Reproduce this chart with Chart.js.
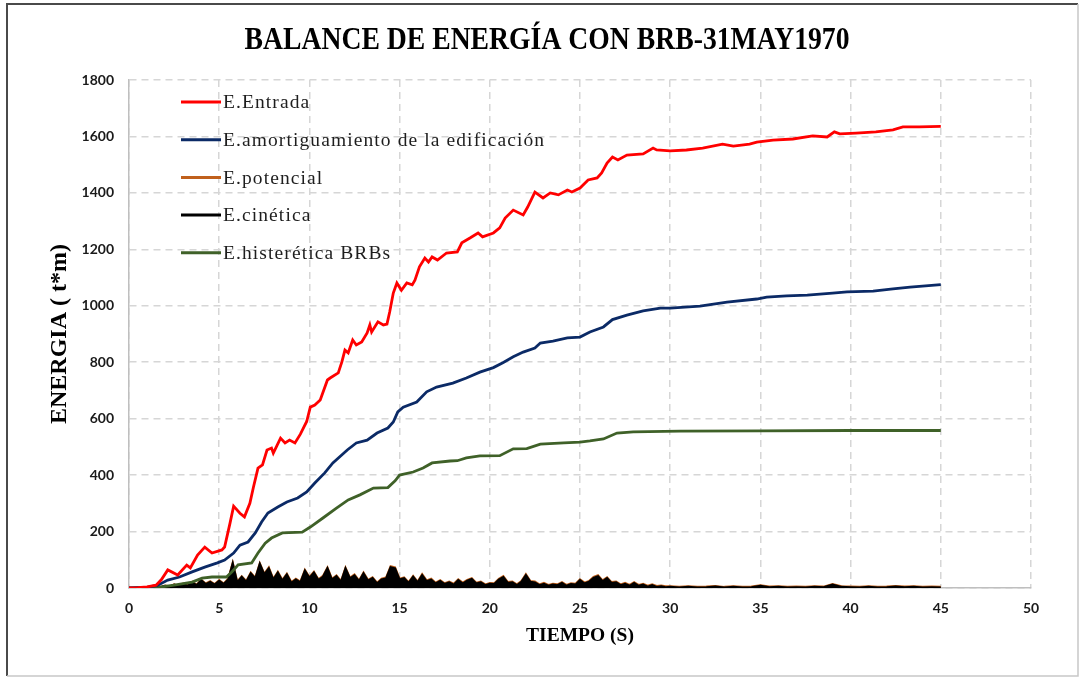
<!DOCTYPE html>
<html>
<head>
<meta charset="utf-8">
<script src="https://cdn.jsdelivr.net/npm/chart.js@4/dist/chart.umd.min.js"></script>
<style>
  html, body { margin: 0; padding: 0; background: #ffffff; }
  #wrap { position: relative; width: 1084px; height: 677px; }
  canvas { display: block; }
</style>
</head>
<body>
<div id="wrap"><canvas id="c" width="1084" height="677"></canvas></div>
<script>
// Energy balance time histories (t in s, energy in t*m)
const chartTitle = 'BALANCE DE ENERGÍA CON BRB-31MAY1970';
const xTitle = 'TIEMPO (S)';
const yTitle = 'ENERGIA ( t*m)';
const seriesNames = [
  'E.Entrada',
  'E.amortiguamiento de la edificación',
  'E.potencial',
  'E.cinética',
  'E.histerética BRBs'
];
const seriesColors = ['#ff0000', '#0b2a66', '#c0601c', '#000000', '#3f6128'];

const xTicks = [0, 5, 10, 15, 20, 25, 30, 35, 40, 45, 50];
const yTicks = [0, 200, 400, 600, 800, 1000, 1200, 1400, 1600, 1800];

// Input energy
const entradaT = [0, 0.5, 1.0, 1.5, 1.8, 2.15, 2.7, 3.2, 3.4, 3.8, 4.2, 4.6, 5.15, 5.3, 5.6, 5.8, 6.15, 6.4, 6.7, 6.9,
  7.15, 7.4, 7.65, 7.9, 8.0, 8.4, 8.65, 8.9, 9.2, 9.5, 9.85, 10.05, 10.3, 10.6, 11.0, 11.15, 11.6, 11.8, 11.97, 12.15,
  12.4, 12.6, 12.9, 13.2, 13.35, 13.45, 13.8, 14.1, 14.3, 14.45, 14.65, 14.85, 15.1, 15.4, 15.7, 15.85, 16.1, 16.4, 16.6, 16.8,
  17.1, 17.6, 18.2, 18.45, 18.9, 19.35, 19.6, 20.2, 20.55, 20.85, 21.3, 21.85, 22.1, 22.5, 22.95, 23.35, 23.8, 24.3, 24.55, 25.0,
  25.45, 25.95, 26.2, 26.5, 26.8, 27.1, 27.6, 28.5, 29.05, 29.25, 30.0, 30.9, 31.8, 32.9, 33.5, 34.4, 34.8, 35.7, 36.8, 37.9,
  38.7, 39.1, 39.4, 40.3, 41.4, 42.35, 42.9, 43.8, 45.0];
const entradaE = [0, 1, 4, 10, 30, 64, 46, 81, 71, 117, 145, 124, 135, 145, 230, 290, 265, 252, 300, 358,
  425, 436, 489, 496, 478, 531, 514, 524, 514, 545, 590, 641, 648, 666, 737, 744, 762, 801, 843, 833,
  879, 861, 872, 904, 932, 907, 943, 932, 935, 978, 1045, 1081, 1055, 1081, 1074, 1091, 1138, 1169, 1155, 1173,
  1162, 1187, 1191, 1223, 1240, 1258, 1244, 1258, 1276, 1311, 1339, 1322, 1350, 1403, 1382, 1400, 1393, 1410, 1403, 1417,
  1446, 1453, 1471, 1506, 1527, 1517, 1534, 1538, 1559, 1552, 1549, 1552, 1559, 1573, 1566, 1573, 1580, 1587, 1591, 1602,
  1598, 1616, 1609, 1612, 1616, 1623, 1634, 1634, 1636];

// Structural damping energy
const amortT = [0, 1.0, 1.6, 2.15, 2.8, 3.5, 4.2, 4.9, 5.3, 5.8, 6.15, 6.6, 7.0, 7.35, 7.7, 8.25, 8.75, 9.35, 9.85, 10.3,
  10.85, 11.3, 12.1, 12.6, 13.2, 13.75, 14.35, 14.65, 14.9, 15.2, 15.95, 16.5, 17.05, 17.95, 18.7, 19.45, 20.2, 20.75, 21.3, 21.85,
  22.5, 22.8, 23.5, 24.3, 25.0, 25.55, 26.3, 26.8, 27.6, 28.5, 29.45, 30.0, 31.65, 33.15, 34.8, 35.35, 36.45, 37.6, 39.0, 39.8,
  41.25, 42.35, 43.3, 45.0];
const amortE = [0, 2, 10, 28, 39, 57, 74, 89, 99, 124, 152, 163, 195, 234, 266, 287, 305, 319, 340, 372,
  408, 443, 489, 514, 524, 549, 567, 588, 624, 641, 659, 695, 712, 726, 744, 765, 781, 799, 819, 836,
  850, 868, 875, 886, 889, 907, 925, 951, 967, 982, 992, 992, 999, 1013, 1024, 1031, 1035, 1038, 1045, 1049,
  1052, 1060, 1066, 1075];

// Hysteretic energy dissipated by the BRBs
const histT = [0, 1.0, 1.6, 2.5, 3.5, 4.05, 4.6, 5.4, 5.7, 6.05, 6.8, 7.15, 7.55, 7.9, 8.5, 9.6, 10.05, 10.75, 11.5, 12.15,
  12.8, 13.55, 14.35, 14.75, 15.0, 15.75, 16.3, 16.8, 17.8, 18.2, 18.7, 19.45, 20.55, 21.3, 22.05, 22.8, 24.1, 25.0, 25.55, 26.3,
  27.05, 27.95, 30.55, 35.0, 40.0, 45.0];
const histE = [0, 1, 2, 10, 21, 35, 39, 39, 57, 82, 89, 124, 159, 177, 195, 198, 216, 248, 283, 312,
  330, 354, 356, 380, 400, 411, 425, 443, 450, 451, 461, 468, 469, 493, 494, 510, 514, 517, 521, 528,
  549, 553, 556, 557, 558, 558];

// Kinetic and potential energy (sampled every 0.25 s up to 30 s, then every 0.5 s)
const oscT = [0, 0.25, 0.5, 0.75, 1, 1.25, 1.5, 1.75, 2, 2.25, 2.5, 2.75, 3, 3.25, 3.5, 3.75, 4, 4.25, 4.5, 4.75,
  5, 5.25, 5.5, 5.75, 6, 6.25, 6.5, 6.75, 7, 7.25, 7.5, 7.75, 8, 8.25, 8.5, 8.75, 9, 9.25, 9.5, 9.75,
  10, 10.25, 10.5, 10.75, 11, 11.25, 11.5, 11.75, 12, 12.25, 12.5, 12.75, 13, 13.25, 13.5, 13.75, 14, 14.25, 14.5, 14.75,
  15, 15.25, 15.5, 15.75, 16, 16.25, 16.5, 16.75, 17, 17.25, 17.5, 17.75, 18, 18.25, 18.5, 18.75, 19, 19.25, 19.5, 19.75,
  20, 20.25, 20.5, 20.75, 21, 21.25, 21.5, 21.75, 22, 22.25, 22.5, 22.75, 23, 23.25, 23.5, 23.75, 24, 24.25, 24.5, 24.75,
  25, 25.25, 25.5, 25.75, 26, 26.25, 26.5, 26.75, 27, 27.25, 27.5, 27.75, 28, 28.25, 28.5, 28.75, 29, 29.25, 29.5, 29.75,
  30, 30.5, 31, 31.5, 32, 32.5, 33, 33.5, 34, 34.5, 35, 35.5, 36, 36.5, 37, 37.5, 38, 38.5, 39, 39.5,
  40, 40.5, 41, 41.5, 42, 42.5, 43, 43.5, 44, 44.5, 45];
const cineticaE = [0, 0, 1, 1, 2, 1, 4, 3, 8, 4, 12, 6, 14, 8, 20, 10, 28, 14, 22, 12,
  26, 14, 30, 88, 20, 40, 22, 52, 34, 86, 48, 70, 30, 55, 26, 48, 18, 30, 20, 62,
  36, 55, 28, 40, 70, 30, 42, 22, 70, 34, 45, 24, 52, 26, 35, 16, 30, 34, 74, 70,
  30, 35, 18, 40, 20, 46, 24, 30, 16, 25, 14, 20, 12, 28, 16, 26, 32, 16, 20, 10,
  15, 14, 30, 39, 18, 20, 10, 22, 46, 22, 20, 10, 15, 8, 12, 10, 18, 8, 14, 12,
  28, 16, 22, 36, 42, 24, 35, 18, 20, 10, 15, 8, 18, 8, 12, 5, 10, 4, 6, 3,
  4, 2, 4, 2, 3, 5, 2, 4, 2, 3, 8, 3, 4, 2, 3, 2, 4, 3, 12, 4,
  3, 2, 4, 2, 3, 5, 3, 4, 2, 3, 2];
const potencialE = [0, 0, 1, 1, 2, 2, 5, 4, 9, 6, 13, 8, 16, 10, 22, 12, 30, 16, 24, 14,
  28, 16, 33, 90, 23, 42, 25, 55, 37, 88, 51, 73, 33, 58, 29, 51, 21, 33, 23, 65,
  39, 58, 31, 43, 73, 33, 45, 25, 73, 37, 48, 27, 55, 29, 38, 19, 33, 37, 77, 73,
  33, 38, 21, 43, 23, 49, 27, 33, 19, 28, 17, 23, 15, 31, 19, 29, 35, 19, 23, 13,
  18, 17, 33, 42, 21, 23, 13, 25, 49, 25, 23, 13, 18, 11, 15, 13, 21, 11, 17, 15,
  31, 19, 25, 39, 45, 27, 38, 21, 23, 13, 18, 11, 21, 11, 15, 8, 13, 7, 9, 6,
  6, 4, 6, 4, 5, 7, 4, 6, 4, 5, 10, 5, 6, 4, 5, 4, 6, 5, 14, 6,
  5, 4, 6, 4, 5, 7, 5, 6, 4, 5, 4];

const toXY = (ts, es) => ts.map((t, i) => ({ x: t, y: es[i] }));
const serif = '"Liberation Serif", "Times New Roman", serif';

// Frame around the whole figure
const framePlugin = {
  id: 'frame',
  beforeDraw(chart) {
    const ctx = chart.ctx;
    ctx.save();
    ctx.fillStyle = '#ffffff';
    ctx.fillRect(0, 0, chart.width, chart.height);
    ctx.lineWidth = 2;
    ctx.strokeStyle = '#4a4a4a';
    ctx.beginPath();
    ctx.moveTo(7, 676); ctx.lineTo(7, 4); ctx.lineTo(1078, 4);
    ctx.stroke();
    ctx.strokeStyle = '#c8c8c8';
    ctx.lineWidth = 1.5;
    ctx.beginPath();
    ctx.moveTo(1078, 4); ctx.lineTo(1078, 676); ctx.lineTo(7, 676);
    ctx.stroke();
    ctx.restore();
  }
};

// Condensed bold title above the plot
const titlePlugin = {
  id: 'condensedTitle',
  afterDraw(chart) {
    const ctx = chart.ctx;
    ctx.save();
    ctx.font = 'bold 31px ' + serif;
    ctx.fillStyle = '#000000';
    ctx.textAlign = 'center';
    ctx.textBaseline = 'middle';
    const w = ctx.measureText(chartTitle).width;
    const sx = 605 / w;
    ctx.translate(547, 41);
    ctx.scale(sx, 1);
    ctx.fillText(chartTitle, 0, 0);
    ctx.restore();
  }
};

// Legend drawn as a vertical list inside the plot area
const innerLegend = {
  id: 'innerLegend',
  afterDatasetsDraw(chart) {
    const ctx = chart.ctx;
    const area = chart.chartArea;
    const x0 = area.left + 52, y0 = area.top + 22, step = 37.7;
    ctx.save();
    ctx.font = '19.5px ' + serif;
    if ('letterSpacing' in ctx) ctx.letterSpacing = '1.1px';
    ctx.textBaseline = 'middle';
    ctx.textAlign = 'left';
    chart.data.datasets.forEach((ds, i) => {
      const y = y0 + i * step;
      ctx.strokeStyle = ds.borderColor;
      ctx.lineWidth = 3;
      ctx.beginPath();
      ctx.moveTo(x0, y);
      ctx.lineTo(x0 + 40, y);
      ctx.stroke();
      ctx.fillStyle = '#1e1e1e';
      ctx.fillText(ds.label, x0 + 42, y + 1);
    });
    ctx.restore();
  }
};

const lineDs = (i, data, width, order, fill) => ({
  label: seriesNames[i],
  data,
  borderColor: seriesColors[i],
  backgroundColor: seriesColors[i],
  borderWidth: width,
  pointRadius: 0,
  tension: 0,
  fill: fill ? 'origin' : false,
  order
});

new Chart(document.getElementById('c'), {
  type: 'line',
  data: {
    datasets: [
      lineDs(0, toXY(entradaT, entradaE), 2.8, 0, false),
      lineDs(1, toXY(amortT, amortE), 2.8, 1, false),
      lineDs(2, toXY(oscT, potencialE), 2, 4, true),
      lineDs(3, toXY(oscT, cineticaE), 2, 3, true),
      lineDs(4, toXY(histT, histE), 2.8, 2, false)
    ]
  },
  options: {
    responsive: false,
    animation: false,
    layout: { padding: { left: 0, right: 53, top: 80, bottom: 0 } },
    plugins: {
      legend: { display: false },
      tooltip: { enabled: false },
      title: { display: false },
      filler: { propagate: false }
    },
    scales: {
      x: {
        type: 'linear',
        min: 0, max: 50,
        afterBuildTicks: (s) => { s.ticks = xTicks.map(v => ({ value: v })); },
        afterFit: (s) => { s.height = 89; },
        ticks: {
          color: '#1a1a1a',
          font: { family: 'Lato, "Open Sans", sans-serif', size: 14, weight: 'bold' },
          padding: 12,
          maxRotation: 0,
          callback: (v) => String(v)
        },
        grid: { color: '#d6d6d6', lineWidth: 1.5, drawTicks: false },
        border: { display: true, color: '#bfbfbf', width: 1.5, dash: [7, 5] },
        title: {
          display: true,
          text: xTitle,
          color: '#000000',
          font: { family: serif, size: 19.5, weight: 'bold', lineHeight: 1.2 },
          padding: { top: 0, bottom: 29 }
        }
      },
      y: {
        type: 'linear',
        min: 0, max: 1800,
        afterBuildTicks: (s) => { s.ticks = yTicks.map(v => ({ value: v })); },
        afterFit: (s) => { s.width = 129; },
        ticks: {
          color: '#1a1a1a',
          font: { family: 'Lato, "Open Sans", sans-serif', size: 14, weight: 'bold' },
          padding: 15,
          callback: (v) => String(v)
        },
        grid: { color: '#d6d6d6', lineWidth: 1.5, drawTicks: false },
        border: { display: true, color: '#bfbfbf', width: 1.5, dash: [7, 5] },
        title: {
          display: true,
          text: yTitle,
          color: '#000000',
          font: { family: serif, size: 24, weight: 'bold', lineHeight: 1.2 },
          padding: { top: 45, bottom: 0 }
        }
      }
    }
  },
  plugins: [framePlugin, titlePlugin, innerLegend]
});
</script>
</body>
</html>
